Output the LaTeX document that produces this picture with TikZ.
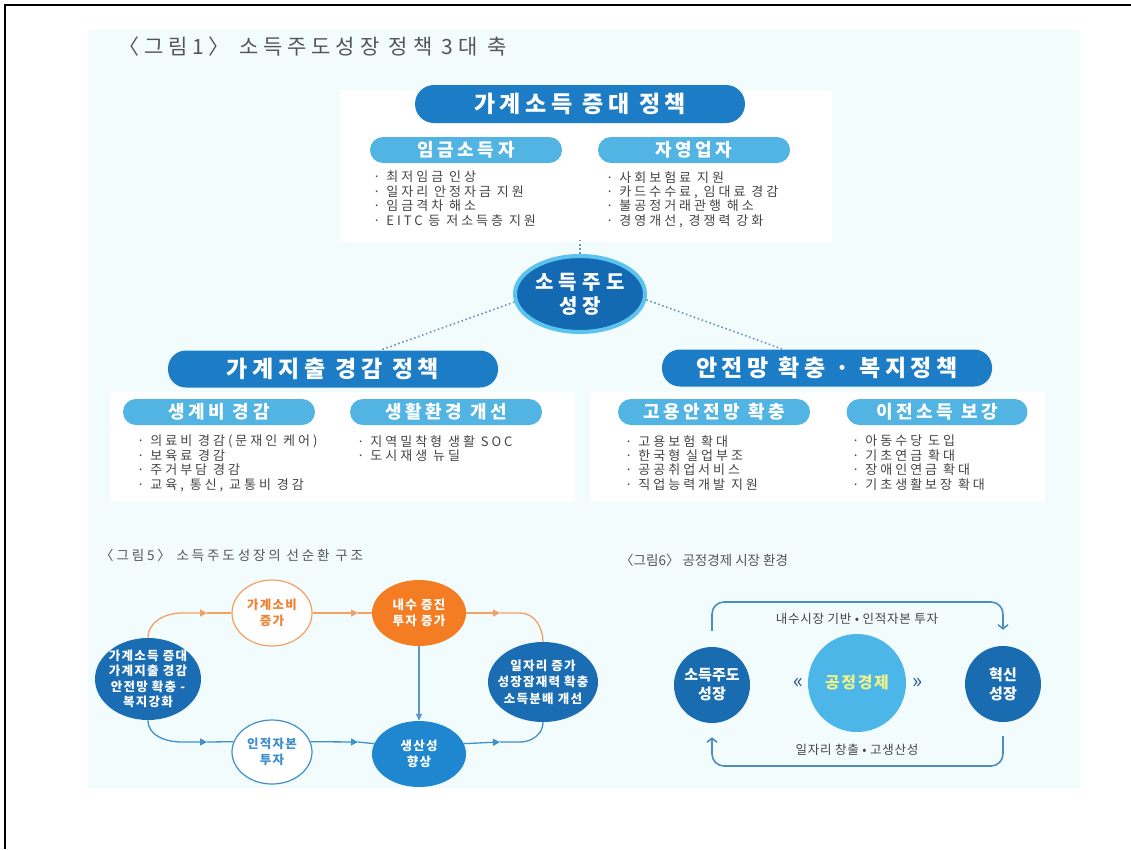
\documentclass[tikz,border=0pt]{standalone}
\usepackage{fontspec}
\setmainfont{Noto Sans CJK KR}
\newfontfamily\krA{Noto Sans CJK KR}[LetterSpace=20]
\newfontfamily\krB{Noto Sans CJK KR}[LetterSpace=23]
\newfontfamily\krC{Noto Sans CJK KR}[LetterSpace=10]
\newfontfamily\krD{Noto Sans CJK KR}[LetterSpace=6]
\newfontfamily\krE{Noto Sans CJK KR}[LetterSpace=26]
\newfontfamily\krF{Noto Sans CJK KR}[LetterSpace=21]
\usetikzlibrary{shapes.geometric,arrows.meta}
\definecolor{bgc}{HTML}{F3FCFD}
\definecolor{dblue}{HTML}{1C7DC6}
\definecolor{lblue}{HTML}{52B4E3}
\definecolor{ccfill}{HTML}{1369B2}
\definecolor{ccring}{HTML}{5CC3EE}
\definecolor{bgray}{HTML}{444444}
\definecolor{tgray}{HTML}{555555}
\definecolor{dotc}{HTML}{6A95BF}
\definecolor{oran}{HTML}{F47C22}
\definecolor{oline}{HTML}{F3A062}
\definecolor{otext}{HTML}{F08030}
\definecolor{fblue}{HTML}{1A6DB2}
\definecolor{mblue}{HTML}{1F87CF}
\definecolor{blinec}{HTML}{3F8FCB}
\definecolor{vlinec}{HTML}{5B97C8}
\definecolor{rdark}{HTML}{1A6CB0}
\definecolor{rlight}{HTML}{4DB6E8}
\definecolor{ryel}{HTML}{EEF28A}
\definecolor{brc}{HTML}{4B8EC2}
\definecolor{chev}{HTML}{2E5C8A}
\begin{document}
\begin{tikzpicture}[x=1pt,y=-1pt,
  title1/.style={anchor=west,inner sep=0pt,text=tgray,font=\krB\fontsize{21}{24}\selectfont},
  title2/.style={anchor=west,inner sep=0pt,text=tgray,font=\krF\fontsize{13.5}{16}\selectfont},
  bigpill/.style={rectangle,rounded corners=18pt,fill=dblue,text=white,minimum width=330pt,minimum height=37pt,inner sep=0pt,font=\krA\bfseries\fontsize{23}{27}\selectfont},
  subpill/.style={rectangle,rounded corners=13pt,fill=lblue,text=white,minimum width=192pt,minimum height=26pt,inner sep=0pt,font=\krA\bfseries\fontsize{18}{21}\selectfont},
  bullets/.style={anchor=north west,align=left,inner sep=0pt,text=bgray,font=\krB\fontsize{13}{14.4}\selectfont},
  dotline/.style={draw=dotc,line width=1.6pt,dash pattern=on 1.6pt off 2.6pt},
  lbl/.style={align=center,inner sep=0pt,font=\krC\bfseries\fontsize{12.5}{15.5}\selectfont},
  fellipse/.style={ellipse,inner sep=0pt},
  olinest/.style={draw=oline,line width=1.3pt},
  blinest/.style={draw=blinec,line width=1.3pt},
  midtip/.style={-{Triangle[length=7pt,width=7pt]}},
  bracketline/.style={draw=brc,line width=1.6pt,rounded corners=12pt,-{Straight Barb[length=4pt,width=10pt]}},
  rlbl/.style={inner sep=0pt,text=bgray,font=\krD\fontsize{12.5}{15}\selectfont}
]
\useasboundingbox (0,0) rectangle (1131,849);
\fill[white] (0,0) rectangle (1131,849);
\fill[bgc] (88,30) rectangle (1080,788);
\fill[white] (340,90) rectangle (832,242);
\fill[white] (110,392) rectangle (575,502);
\fill[white] (590,392) rectangle (1045,502);
\draw[line width=2pt] (5,849) -- (5,5) -- (1131,5);

% ---- figure 1 ----
\node[title1] (t1) at (118,47) {〈그림1〉 소득주도성장 정책 3대 축};
\node[bigpill,minimum height=38pt,rounded corners=19pt] (tp) at (580,104) {가계소득 증대 정책};
\node[subpill] (s1) at (466,150) {임금소득자};
\node[subpill] (s2) at (694,150) {자영업자};
\node[bullets] (b1) at (373,171) {· 최저임금 인상\\· 일자리 안정자금 지원\\· 임금격차 해소\\· EITC 등 저소득층 지원};
\node[bullets] (b2) at (606,171) {· 사회보험료 지원\\· 카드수수료, 임대료 경감\\· 불공정거래관행 해소\\· 경영개선, 경쟁력 강화};

\node[ellipse,fill=ccfill,draw=ccring,line width=4pt,minimum width=130pt,minimum height=76pt,inner sep=0pt,
  label={[align=center,inner sep=0pt,text=white,font=\krE\bfseries\fontsize{20}{24}\selectfont]center:{소득주도\\성장}}] (cc) at (580,294) {};
\coordinate (topend) at (580,240);
\draw[dotline] (cc.north) -- (topend);

\node[bigpill] (lp) at (333,369) {가계지출 경감 정책};
\node[bigpill] (rp) at (827,368) {안전망 확충 · 복지정책};
\draw[dotline] (cc.187) -- ([xshift=47pt]lp.north);
\draw[dotline] (cc.-5) -- ([xshift=-44pt]rp.north);

\node[subpill] (s3) at (219,412) {생계비 경감};
\node[subpill] (s4) at (446,412) {생활환경 개선};
\node[subpill] (s5) at (714,412) {고용안전망 확충};
\node[subpill,minimum width=181pt] (s6) at (937,412) {이전소득 보강};
\node[bullets] (b3) at (137,435) {· 의료비 경감(문재인 케어)\\· 보육료 경감\\· 주거부담 경감\\· 교육, 통신, 교통비 경감};
\node[bullets] (b4) at (357,435) {· 지역밀착형 생활 SOC\\· 도시재생 뉴딜};
\node[bullets] (b5) at (625,435) {· 고용보험 확대\\· 한국형 실업부조\\· 공공취업서비스\\· 직업능력개발 지원};
\node[bullets] (b6) at (852,435) {· 아동수당 도입\\· 기초연금 확대\\· 장애인연금 확대\\· 기초생활보장 확대};

% ---- figure 5 ----
\node[title2] (t5) at (100,555) {〈그림5〉 소득주도성장의 선순환 구조};
\node[fellipse,fill=fblue,minimum width=106pt,minimum height=82pt,
  label={[lbl,text=white]center:{가계소득 증대\\가계지출 경감\\안전망 확충 -\\복지강화}}] (L) at (148,679) {};
\node[fellipse,fill=white,draw=oline,line width=1.2pt,minimum width=80pt,minimum height=66pt,
  label={[lbl,text=otext]center:{가계소비\\증가}}] (g1) at (272,613) {};
\node[fellipse,fill=oran,minimum width=94pt,minimum height=66pt,
  label={[lbl,text=white]center:{내수 증진\\투자 증가}}] (n1) at (419,613) {};
\node[fellipse,fill=fblue,minimum width=110pt,minimum height=80pt,
  label={[lbl,text=white,font=\krC\bfseries\fontsize{12.5}{16.5}\selectfont]center:{일자리 증가\\성장잠재력 확충\\소득분배 개선}}] (J) at (543,682) {};
\node[fellipse,fill=white,draw=blinec,line width=1.2pt,minimum width=80pt,minimum height=64pt,
  label={[lbl,text=blinec]center:{인적자본\\투자}}] (inj) at (272,752) {};
\node[fellipse,fill=mblue,minimum width=94pt,minimum height=66pt,
  label={[lbl,text=white]center:{생산성\\향상}}] (sp) at (419,754) {};

\coordinate (oc1) at (182,613);
\coordinate (oa1) at (207,613);
\coordinate (oa2) at (358,613);
\coordinate (oa3) at (500,613);
\coordinate (oc3) at (520,613);
\draw[olinest,midtip] (L.north) to[out=90,in=180] (oc1) -- (oa1);
\draw[olinest] (oa1) -- (g1.west);
\draw[olinest,midtip] (g1.east) -- (oa2);
\draw[olinest] (oa2) -- (n1.west);
\draw[olinest,midtip] (n1.east) -- (oa3);
\draw[olinest] (oa3) -- (oc3) to[out=0,in=90] (J.north);

\coordinate (bc1) at (182,742);
\coordinate (ba1) at (207,742);
\coordinate (ba2) at (358,742);
\coordinate (ba3) at (500,742);
\coordinate (bc3) at (520,742);
\draw[blinest,midtip] (L.south) to[out=-90,in=180] (bc1) -- (ba1);
\draw[blinest] (ba1) -- (inj.165);
\draw[blinest,midtip] (inj.15) -- (ba2);
\draw[blinest] (ba2) -- (sp.167);
\draw[blinest,midtip] (sp.13) -- (ba3);
\draw[blinest] (ba3) -- (bc3) to[out=0,in=-90] (J.south);
\draw[draw=vlinec,line width=1.3pt,-{Triangle[length=7pt,width=6pt]}] (n1.south) -- (sp.north);

% ---- figure 6 ----
\node[anchor=west,inner sep=0pt,text=tgray,font=\fontsize{13.5}{16}\selectfont] (t6) at (620,560) {〈그림6〉 공정경제 시장 환경};
\node[circle,fill=rdark,minimum size=76pt,inner sep=0pt,
  label={[align=center,inner sep=0pt,text=white,font=\bfseries\fontsize{15}{19}\selectfont]center:{소득주도\\성장}}] (S) at (712,685) {};
\node[circle,fill=rlight,minimum size=98pt,inner sep=0pt,
  label={[inner sep=0pt,text=ryel,font=\krC\bfseries\fontsize{16}{19}\selectfont]center:{공정경제}}] (F) at (857,683) {};
\node[circle,fill=rdark,minimum size=76pt,inner sep=0pt,
  label={[align=center,inner sep=0pt,text=white,font=\bfseries\fontsize{15}{19}\selectfont]center:{혁신\\성장}}] (H) at (1003,684) {};
\node[inner sep=0pt,text=chev,font=\fontsize{21}{24}\selectfont] (cl) at (799,683) {«};
\node[inner sep=0pt,text=chev,font=\fontsize{21}{24}\selectfont] (cr) at (918,683) {»};
\coordinate (topy) at (857,602);
\coordinate (boty) at (857,766);
\draw[bracketline] ([yshift=16pt]S.north) |- (topy) -| ([yshift=16pt]H.north);
\draw[bracketline] ([yshift=-14pt]H.south) |- (boty) -| ([yshift=-14pt]S.south);
\node[rlbl] (lt) at (857,619) {내수시장 기반 • 인적자본 투자};
\node[rlbl] (lb) at (857,750) {일자리 창출 • 고생산성};
\end{tikzpicture}
\end{document}
